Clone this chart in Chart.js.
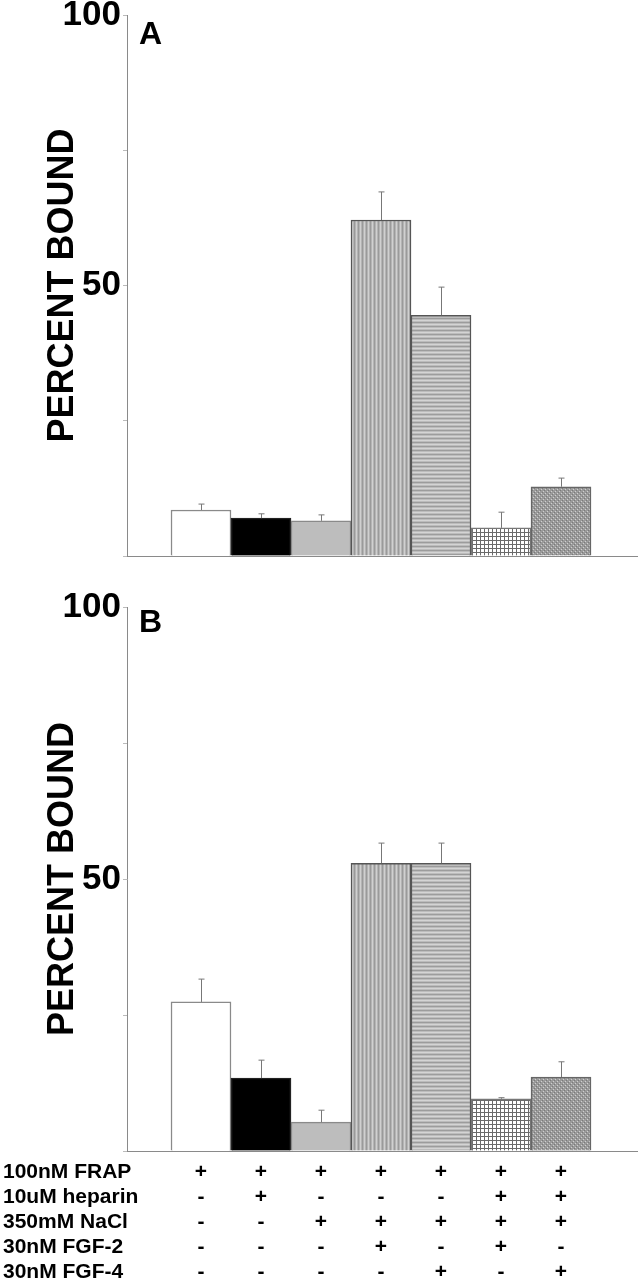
<!DOCTYPE html>
<html>
<head>
<meta charset="utf-8">
<script src="https://cdn.jsdelivr.net/npm/chart.js@4/dist/chart.umd.min.js"></script>
<style>
  body { margin: 0; background: #fff; }
  canvas { display: block; }
</style>
</head>
<body>
<canvas id="chartA" width="642" height="580"></canvas>
<canvas id="chartB" width="642" height="700"></canvas>
<script>
// ── Data ──
const lanes    = [1, 2, 3, 4, 5, 6, 7];
const rowNames = ['100nM FRAP', '10uM heparin', '350mM NaCl', '30nM FGF-2', '30nM FGF-4'];
const frap     = ['+', '+', '+', '+', '+', '+', '+'];
const heparin  = ['-', '+', '-', '-', '-', '+', '+'];
const nacl     = ['-', '-', '+', '+', '+', '+', '+'];
const fgf2     = ['-', '-', '-', '+', '-', '+', '-'];
const fgf4     = ['-', '-', '-', '-', '+', '-', '+'];

const boundA = [8.5, 7.0, 6.5, 62.1, 44.5, 5.2, 12.8];
const sdA    = [1.1, 0.8, 1.1, 5.2, 5.2, 2.9, 1.6];
const boundB = [27.4, 13.4, 5.3, 52.9, 52.9, 9.6, 13.6];
const sdB    = [4.2, 3.3, 2.2, 3.7, 3.7, 0.2, 2.8];

const yTicks  = [0, 25, 50, 75, 100];
const yLabels = [50, 100];

// ── Fill patterns ──
function makePattern(w, h, draw) {
  const c = document.createElement('canvas');
  c.width = w; c.height = h;
  const g = c.getContext('2d');
  draw(g);
  return g.createPattern(c, 'repeat');
}

const vStripes = makePattern(4, 4, g => {
  g.fillStyle = '#b4b4b4'; g.fillRect(0, 0, 4, 4);
  g.fillStyle = '#d0d0d0'; g.fillRect(0, 0, 1, 4);
  g.fillStyle = '#9a9a9a'; g.fillRect(2, 0, 1, 4);
});
const hStripes = makePattern(4, 4, g => {
  g.fillStyle = '#bcbcbc'; g.fillRect(0, 0, 4, 4);
  g.fillStyle = '#d4d4d4'; g.fillRect(0, 0, 4, 1);
  g.fillStyle = '#9c9c9c'; g.fillRect(0, 2, 4, 1);
});
const checks = makePattern(4, 4, g => {
  g.fillStyle = '#ffffff'; g.fillRect(0, 0, 4, 4);
  g.fillStyle = '#6a6a6a'; g.fillRect(0, 0, 4, 1); g.fillRect(0, 0, 1, 4);
});
const dots = makePattern(4, 4, g => {
  g.fillStyle = '#9a9a9a'; g.fillRect(0, 0, 4, 4);
  g.fillStyle = '#cfcfcf'; g.fillRect(1, 1, 1, 1); g.fillRect(3, 3, 1, 1);
  g.fillStyle = '#7a7a7a'; g.fillRect(0, 2, 1, 1); g.fillRect(2, 0, 1, 1);
});

const barFills   = ['#ffffff', '#000000', '#bdbdbd', vStripes, hStripes, checks, dots];
const barBorders = ['#8a8a8a', '#222222', '#8a8a8a', '#555555', '#555555', '#777777', '#666666'];

// ── Plugins ──
const errorBars = {
  id: 'errorBars',
  afterDatasetsDraw(chart, args, opts) {
    const meta = chart.getDatasetMeta(0);
    const y = chart.scales.y;
    const c = chart.ctx;
    c.save();
    c.strokeStyle = '#777';
    c.lineWidth = 1;
    meta.data.forEach((bar, i) => {
      const top = y.getPixelForValue(opts.values[i] + opts.sd[i]);
      const x = Math.round(bar.x) + 0.5;
      c.beginPath();
      c.moveTo(x, bar.y);
      c.lineTo(x, top);
      c.moveTo(x - 3, top);
      c.lineTo(x + 3, top);
      c.stroke();
    });
    c.restore();
  }
};

const panelLabel = {
  id: 'panelLabel',
  afterDraw(chart, args, opts) {
    const c = chart.ctx;
    c.save();
    c.font = 'bold 32px "Liberation Sans", Arial, sans-serif';
    c.fillStyle = '#000';
    c.textAlign = 'left';
    c.textBaseline = 'middle';
    c.fillText(opts.text, 139, chart.chartArea.top + opts.dy);
    c.restore();
  }
};

const rowLabels = {
  id: 'rowLabels',
  afterDraw(chart) {
    const x = chart.scales.x;
    const c = chart.ctx;
    c.save();
    c.font = 'bold 21px "Liberation Sans", Arial, sans-serif';
    c.fillStyle = '#000';
    c.textAlign = 'left';
    c.textBaseline = 'middle';
    rowNames.forEach((name, i) => {
      c.fillText(name, 3, x.top + 9 + 25 * (i + 0.5));
    });
    c.restore();
  }
};

// ── Chart builder ──
function buildChart(canvasId, values, sd, panel, opt) {
  return new Chart(document.getElementById(canvasId), {
    type: 'bar',
    data: {
      datasets: [{
        data: lanes.map((l, i) => ({ x: l, y: values[i] })),
        backgroundColor: barFills,
        borderColor: barBorders,
        borderWidth: 1.5,
        borderSkipped: 'bottom',
        barPercentage: 1,
        categoryPercentage: 1,
      }]
    },
    options: {
      responsive: false,
      animation: false,
      events: [],
      layout: { padding: { top: opt.top, right: 5, left: 0, bottom: 0 } },
      plugins: {
        legend: { display: false },
        tooltip: { enabled: false },
        errorBars: { values: values, sd: sd },
        panelLabel: { text: panel, dy: opt.labelDy },
      },
      scales: {
        x: {
          type: 'linear',
          offset: false,
          min: 1 - 74 / 60,
          max: 7 + 76 / 60,
          afterBuildTicks: s => { s.ticks = lanes.map(v => ({ value: v })); },
          afterFit: s => { s.height = opt.xHeight; s.paddingLeft = 0; s.paddingRight = 0; },
          grid: { display: false, offset: false },
          border: { display: true, color: '#8a8a8a', width: 1 },
          ticks: {
            display: opt.table,
            autoSkip: false,
            maxRotation: 0,
            padding: 1,
            color: '#000',
            font: { family: '"Liberation Sans", Arial, sans-serif', size: 21, weight: 'bold', lineHeight: 25 / 21 },
            callback: v => {
              const i = lanes.indexOf(v);
              return i < 0 ? '' : [frap[i], heparin[i], nacl[i], fgf2[i], fgf4[i]];
            }
          }
        },
        y: {
          min: 0,
          max: 100,
          afterBuildTicks: s => { s.ticks = yTicks.map(v => ({ value: v })); },
          afterFit: s => { s.width = 127; s.paddingTop = 0; s.paddingBottom = 0; },
          grid: { drawOnChartArea: false, drawTicks: true, tickLength: 4, color: '#bbb' },
          border: { display: true, color: '#8a8a8a', width: 1 },
          ticks: {
            padding: 2,
            color: '#000',
            font: { family: '"Liberation Sans", Arial, sans-serif', size: 35, weight: 'bold', lineHeight: 1 },
            callback: v => yLabels.includes(v) ? String(v) : ''
          },
          title: {
            display: true,
            text: 'PERCENT BOUND',
            color: '#000',
            padding: { top: 45, bottom: 0 },
            font: { family: '"Liberation Sans", Arial, sans-serif', size: 36, weight: 'bold', lineHeight: 1 }
          }
        }
      }
    },
    plugins: opt.table ? [errorBars, panelLabel, rowLabels] : [errorBars, panelLabel]
  });
}

// ── Init ──
buildChart('chartA', boundA, sdA, 'A', { top: 15, xHeight: 24, table: false, labelDy: 20 });
buildChart('chartB', boundB, sdB, 'B', { top: 27, xHeight: 129, table: true, labelDy: 16 });
</script>
</body>
</html>
